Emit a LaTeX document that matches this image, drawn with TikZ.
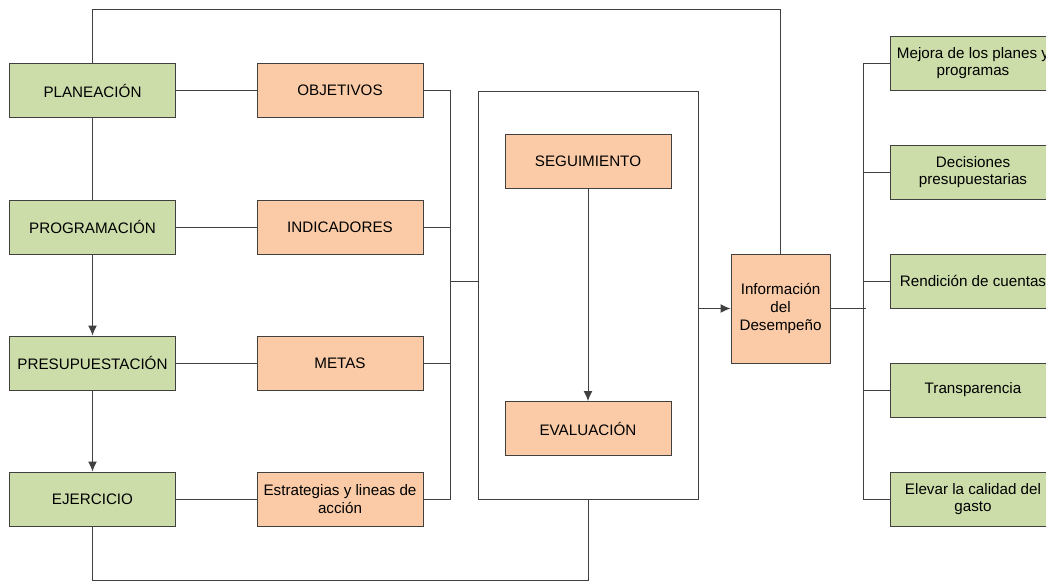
\documentclass[tikz,border=0pt]{standalone}
\usepackage{fontspec}
\setmainfont{Liberation Sans}
\usetikzlibrary{arrows.meta}
\definecolor{verde}{RGB}{204,221,170}
\definecolor{naranja}{RGB}{250,203,166}
\tikzset{>={Latex[length=10pt,width=9pt]}}

\begin{document}
\begin{tikzpicture}[x=1pt,y=-1pt,line width=1pt,
    caja/.style={draw=black!75,minimum width=166pt,minimum height=54pt,align=center,inner sep=2pt,
        font=\fontsize{15.2}{17.8}\selectfont},
    verdebox/.style={caja,fill=verde},
    naranjabox/.style={caja,fill=naranja}]
    \useasboundingbox (0,0) rectangle (1046,581);
    % etapas del ciclo
    \node[verdebox] (plan) at (92.5,90.5) {PLANEACIÓN};
    \node[verdebox] (prog) at (92.5,227) {PROGRAMACIÓN};
    \node[verdebox] (pres) at (92.5,363) {PRESUPUESTACIÓN};
    \node[verdebox] (ejer) at (92.5,499) {EJERCICIO};
    \node[naranjabox] (obj) at (340,90.5) {OBJETIVOS};
    \node[naranjabox] (ind) at (340,227) {INDICADORES};
    \node[naranjabox] (metas) at (340,363) {METAS};
    \node[naranjabox] (estr) at (340,499) {Estrategias y lineas de\\acción};
    % marco de seguimiento y evaluacion
    \node[draw=black!75,minimum width=220pt,minimum height=408pt] (marco) at (588,295) {};
    \node[naranjabox] (seg) at (588,161.5) {SEGUIMIENTO};
    \node[naranjabox] (eva) at (588,428.5) {EVALUACIÓN};
    \node[caja,fill=naranja,minimum width=99pt,minimum height=109pt] (info) at (780.5,308.5) {Información\\del\\Desempeño};
    % usos de la informacion
    \node[verdebox] (mejora) at (973,63) {Mejora de los planes y\\programas};
    \node[verdebox] (decis) at (973,172) {Decisiones\\presupuestarias};
    \node[verdebox] (rend) at (973,281) {Rendición de cuentas};
    \node[verdebox] (transp) at (973,390) {Transparencia};
    \node[verdebox] (elevar) at (973,499) {Elevar la calidad del\\gasto};

    \coordinate (busL) at (450,281);
    \coordinate (busR) at (863,308.5);
    \coordinate (finR) at (866,308.5);
    \coordinate (arriba) at (92.5,9);
    \coordinate (abajo) at (92.5,580);

    \begin{scope}[draw=black!75]
    \draw (plan) -- (prog);
    \draw[->] (prog) -- (pres);
    \draw[->] (pres) -- (ejer);
    \draw (plan) -- (obj);
    \draw (prog) -- (ind);
    \draw (pres) -- (metas);
    \draw (ejer) -- (estr);
    \draw (obj.east) -| (busL);
    \draw (ind.east) -| (busL);
    \draw (metas.east) -| (busL);
    \draw (estr.east) -| (busL);
    \draw (busL) -- (busL -| marco.west);
    \draw[->] (seg) -- (eva);
    \draw[->] (marco.east |- info.west) -- (info.west);
    \draw (info.east) -- (finR);
    \draw (mejora.west) -| (busR);
    \draw (decis.west) -| (busR);
    \draw (rend.west) -| (busR);
    \draw (transp.west) -| (busR);
    \draw (elevar.west) -| (busR);
    % lazos de retroalimentacion
    \draw (plan.north) -- (plan.north |- arriba) -| (info.north);
    \draw (ejer.south) -- (ejer.south |- abajo) -| (marco.south);
    \end{scope}
\end{tikzpicture}
\end{document}
